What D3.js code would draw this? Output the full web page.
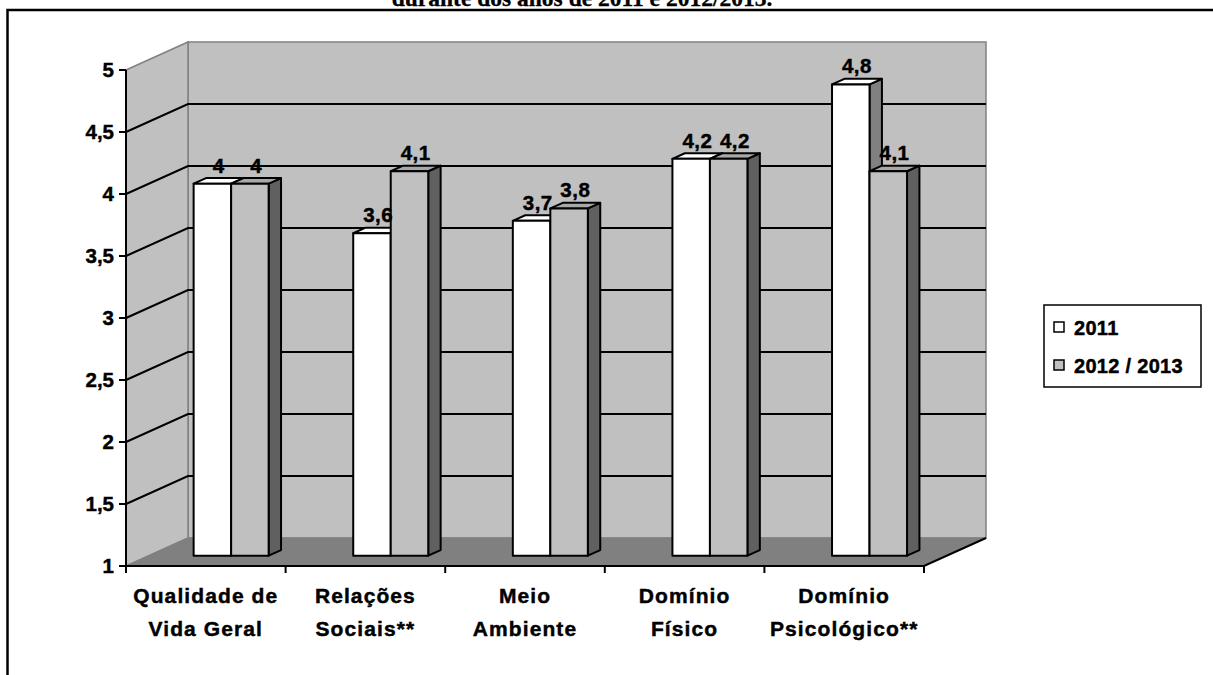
<!DOCTYPE html>
<html>
<head>
<meta charset="utf-8">
<script src="https://cdn.jsdelivr.net/npm/d3@7"></script>
<style>
  html, body { margin: 0; padding: 0; background: #ffffff; }
  svg { display: block; }
  text { font-family: "Liberation Sans", Arial, sans-serif; font-weight: bold; fill: #000; stroke: #000; stroke-width: 0.45px; }
</style>
</head>
<body>
<script>
// ---- data ----
const titleText = "durante dos anos de 2011 e 2012/2013.";
const categories = ["Qualidade de\nVida Geral", "Relações\nSociais**", "Meio\nAmbiente", "Domínio\nFísico", "Domínio\nPsicológico**"];
const series = ["2011", "2012 / 2013"];
const values2011 = [4, 3.6, 3.7, 4.2, 4.8];
const values2012 = [4, 4.1, 3.8, 4.2, 4.1];
const yTicks = [1, 1.5, 2, 2.5, 3, 3.5, 4, 4.5, 5];
const yTickLabels = ["1", "1,5", "2", "2,5", "3", "3,5", "4", "4,5", "5"];

const seriesValues = [values2011, values2012];
const frontFill = ["#ffffff", "#c0c0c0"];
const topFill = ["#ffffff", "#a8a8a8"];
const sideFill = ["#808080", "#606060"];

const W = 1213, H = 675;
const svg = d3.select("body").append("svg").attr("width", W).attr("height", H);

// frame & title
svg.append("text").attr("x", 582).attr("y", 6).attr("text-anchor", "middle")
  .style("font-family", '"Liberation Serif", "Times New Roman", serif')
  .style("stroke-width", "0.3px")
  .style("font-size", "23.5px").text(titleText);
svg.append("path").attr("d", "M7.5,675 V10 H1213").attr("fill", "none")
  .attr("stroke", "#000").attr("stroke-width", 2.5);

// scales
const x0 = d3.scaleBand().domain(d3.range(categories.length)).range([126, 924]);
const x1 = d3.scaleBand().domain(series).range([x0.bandwidth() * 0.28, x0.bandwidth() * 0.75]);
const y = d3.scaleLinear().domain([1, 5]).range([566, 70]);
const DX = 62, DY = -28;
const proj = (x, v, d) => [x + DX * d, y(v) + DY * d];
const poly = pts => "M" + pts.map(p => p.join(",")).join("L") + "Z";

const xL = x0.range()[0], xR = x0.range()[1];
const vMin = y.domain()[0], vMax = y.domain()[1];

// walls
svg.append("path").attr("d", poly([proj(xL, vMax, 1), proj(xR, vMax, 1), proj(xR, vMin, 1), proj(xL, vMin, 1)]))
  .attr("fill", "#c0c0c0").attr("stroke", "#808080").attr("stroke-width", 1.5);
svg.append("path").attr("d", poly([proj(xL, vMax, 0), proj(xL, vMax, 1), proj(xL, vMin, 1), proj(xL, vMin, 0)]))
  .attr("fill", "#c0c0c0").attr("stroke", "#808080").attr("stroke-width", 1.5);
svg.append("path").attr("d", poly([proj(xL, vMin, 0), proj(xR, vMin, 0), proj(xR, vMin, 1), proj(xL, vMin, 1)]))
  .attr("fill", "#808080").attr("stroke", "#808080").attr("stroke-width", 1);

// gridlines
svg.append("g").selectAll("path").data(yTicks.filter(v => v > vMin && v < vMax)).join("path")
  .attr("d", v => "M" + [proj(xL, v, 0), proj(xL, v, 1), proj(xR, v, 1)].map(p => p.join(",")).join("L"))
  .attr("fill", "none").attr("stroke", "#000").attr("stroke-width", 2);

// axes
const ax = svg.append("g");
ax.append("line").attr("x1", xL).attr("x2", xL).attr("y1", y(vMax)).attr("y2", y(vMin))
  .attr("stroke", "#000").attr("stroke-width", 2);
ax.selectAll(".yt").data(yTicks).join("line").attr("x1", xL - 7).attr("x2", xL)
  .attr("y1", d => y(d)).attr("y2", d => y(d)).attr("stroke", "#000").attr("stroke-width", 2);
ax.selectAll(".yl").data(yTicks).join("text").attr("x", 114).attr("y", d => y(d) + 7)
  .attr("text-anchor", "end").style("font-size", "20.5px").text((d, i) => yTickLabels[i]);
ax.append("path").attr("d", "M" + [proj(xL, vMin, 0), proj(xR, vMin, 0), proj(xR, vMin, 1)].map(p => p.join(",")).join("L"))
  .attr("fill", "none").attr("stroke", "#000").attr("stroke-width", 2);
const bounds = d3.range(categories.length).map(i => x0(i)).concat([xR]);
ax.selectAll(".xt").data(bounds).join("line").attr("x1", d => d).attr("x2", d => d)
  .attr("y1", y(vMin)).attr("y2", y(vMin) + 7).attr("stroke", "#000").attr("stroke-width", 2);
categories.forEach((c, i) => {
  const t = ax.append("text").attr("text-anchor", "middle").style("font-size", "21px").style("letter-spacing", "1.1px");
  c.split("\n").forEach((line, k) => {
    t.append("tspan").attr("x", x0(i) + x0.bandwidth() / 2).attr("y", 603 + k * 33).text(line);
  });
});

// bars
const D0 = 0.37, DD = 0.2;
const fmt = v => String(v).replace(".", ",");
const bars = svg.append("g");
categories.forEach((c, i) => {
  series.forEach((s, j) => {
    const v = seriesValues[j][i];
    const a = x0(i) + x1(s), b = a + x1.bandwidth();
    const g = bars.append("g").attr("stroke", "#000").attr("stroke-width", 2).attr("stroke-linejoin", "round");
    g.append("path").attr("d", poly([proj(b, v, D0), proj(b, v, D0 + DD), proj(b, vMin, D0 + DD), proj(b, vMin, D0)]))
      .attr("fill", sideFill[j]);
    g.append("path").attr("d", poly([proj(a, v, D0), proj(b, v, D0), proj(b, v, D0 + DD), proj(a, v, D0 + DD)]))
      .attr("fill", topFill[j]);
    g.append("path").attr("d", poly([proj(a, v, D0), proj(b, v, D0), proj(b, vMin, D0), proj(a, vMin, D0)]))
      .attr("fill", frontFill[j]);
  });
});
// data labels
categories.forEach((c, i) => {
  series.forEach((s, j) => {
    const v = seriesValues[j][i];
    const a = x0(i) + x1(s);
    bars.append("text").attr("text-anchor", "middle")
      .attr("x", a + x1.bandwidth() / 2 + DX * (D0 + DD / 2))
      .attr("y", y(v) + DY * D0 - 11)
      .style("font-size", "20.5px").style("letter-spacing", "0.5px").text(fmt(v));
  });
});

// legend
const lg = svg.append("g");
lg.append("rect").attr("x", 1044).attr("y", 305).attr("width", 157).attr("height", 82)
  .attr("fill", "#fff").attr("stroke", "#000").attr("stroke-width", 1.5);
series.forEach((s, j) => {
  lg.append("rect").attr("x", 1054).attr("y", 322 + j * 38).attr("width", 10).attr("height", 10)
    .attr("fill", frontFill[j]).attr("stroke", "#000").attr("stroke-width", 1.5);
  lg.append("text").attr("x", 1074).attr("y", 335 + j * 38).style("font-size", "20px")
    .style("letter-spacing", "0.3px").text(s);
});
</script>
</body>
</html>
